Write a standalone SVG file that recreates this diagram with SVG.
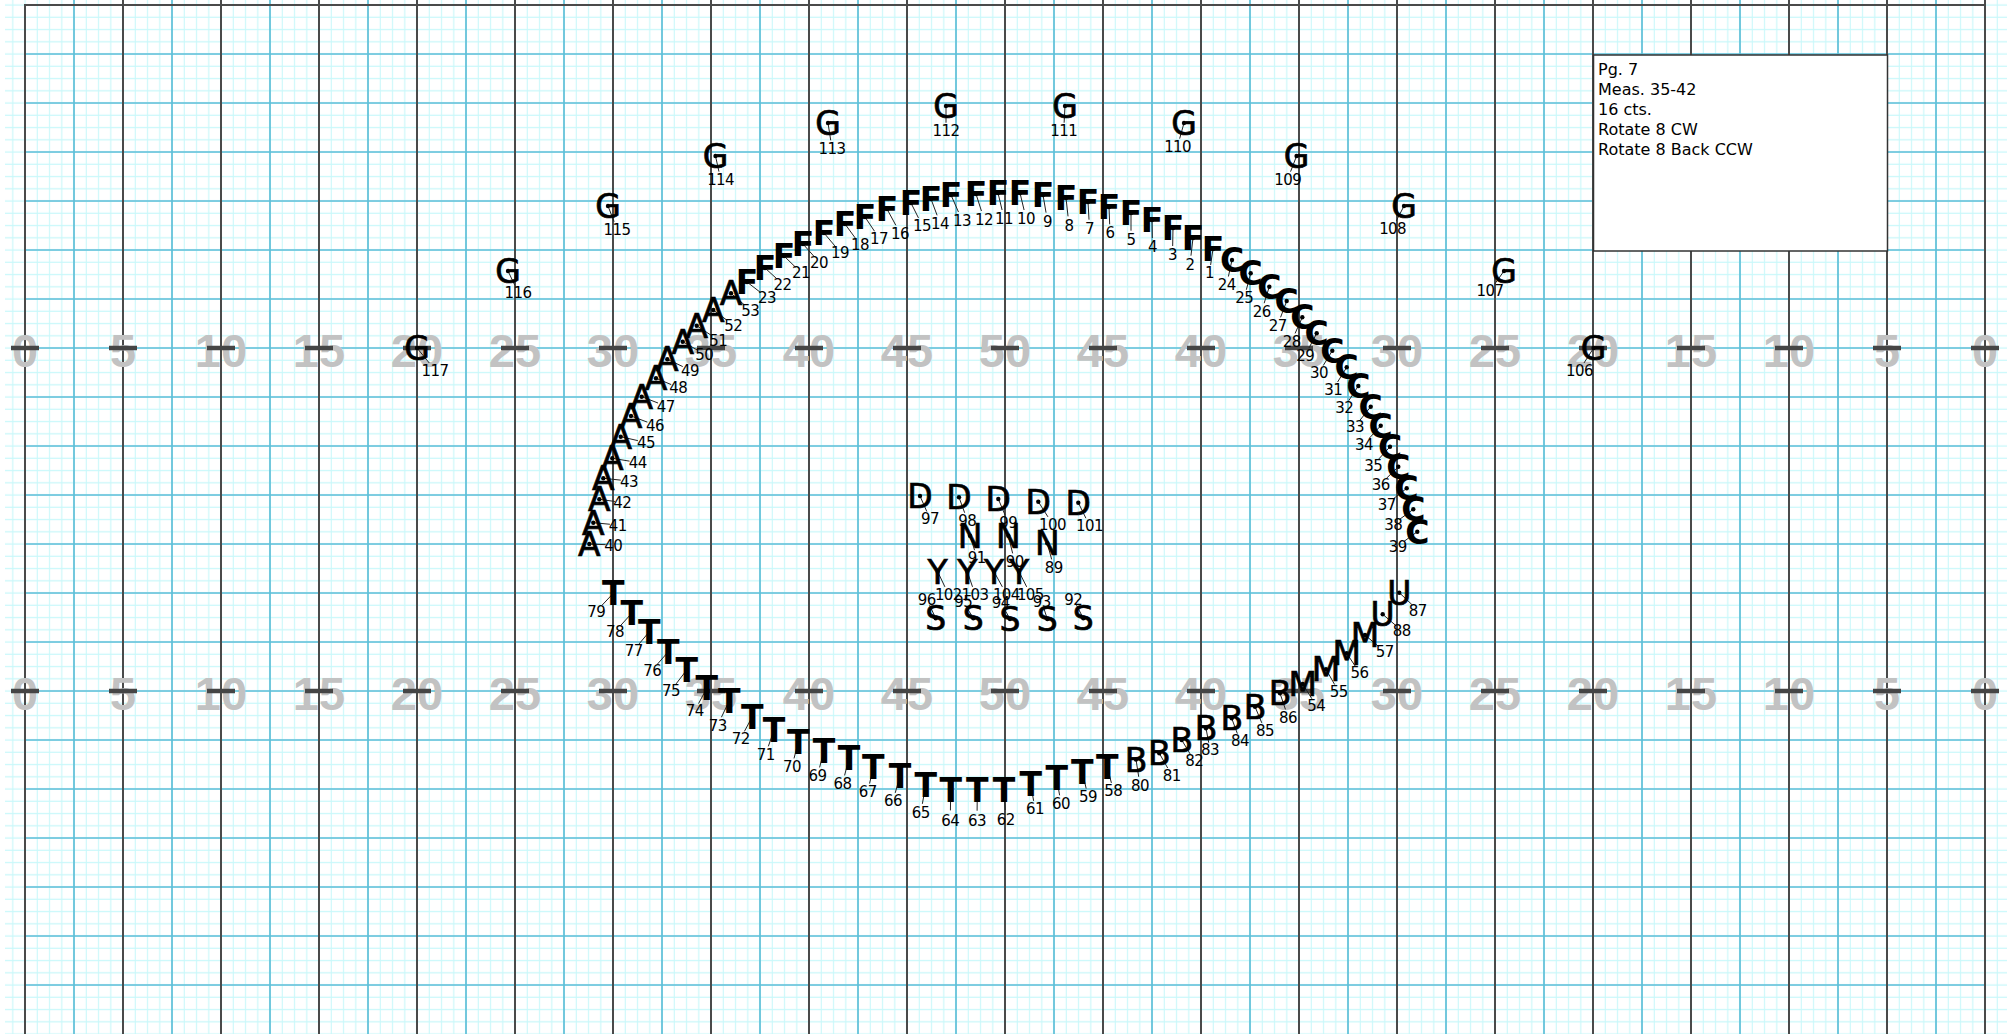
<svg xmlns="http://www.w3.org/2000/svg" width="2007" height="1034" viewBox="0 0 2007 1034">
<style>
.minor{stroke:#c9f8fa;stroke-width:1.1;fill:none}
.blue{stroke:#5fbfd8;stroke-width:1.7;fill:none}
.dark{stroke:#4a4a4a;stroke-width:2;fill:none}
.yn{font-family:"Liberation Sans",Arial,sans-serif;font-weight:bold;font-size:47px;fill:#c2c2c2;text-anchor:middle}
.box{fill:#fff;stroke:#333;stroke-width:1.5}
.bt{font-family:"DejaVu Sans",sans-serif;font-size:16px;fill:#000}
.g{font-family:"DejaVu Sans",sans-serif;font-size:33px;fill:#000;text-anchor:middle;stroke:#000;stroke-width:0.7px}
.b{font-weight:bold;stroke-width:0}
.lb{font-family:"DejaVu Sans",sans-serif;font-size:15px;fill:#000;text-anchor:middle;letter-spacing:-0.6px}
.ld{stroke:#222;stroke-width:1;fill:none;stroke-dasharray:0.68 1}
circle{fill:#000}
</style>
<defs>
<pattern id="mg" patternUnits="userSpaceOnUse" x="18.875" y="-1.125" width="98" height="98">
<path class="minor" d="M6.125 0V98M18.375 0V98M30.625 0V98M42.875 0V98M55.125 0V98M67.375 0V98M79.625 0V98M91.875 0V98M0 6.125H98M0 18.375H98M0 30.625H98M0 42.875H98M0 55.125H98M0 67.375H98M0 79.625H98M0 91.875H98"/>
</pattern>
</defs>
<rect width="2007" height="1034" fill="#fff"/>
<g id="grid">
<rect x="5" y="0" width="2002" height="1034" fill="url(#mg)"/>
<path class="blue" d="M74 0V1034M172 0V1034M270 0V1034M368 0V1034M466 0V1034M564 0V1034M662 0V1034M760 0V1034M858 0V1034M956 0V1034M1054 0V1034M1152 0V1034M1250 0V1034M1348 0V1034M1446 0V1034M1544 0V1034M1642 0V1034M1740 0V1034M1838 0V1034M1936 0V1034"/>
<path class="blue" d="M25 54H1985M25 103H1985M25 152H1985M25 201H1985M25 250H1985M25 299H1985M25 348H1985M25 397H1985M25 446H1985M25 495H1985M25 544H1985M25 593H1985M25 642H1985M25 691H1985M25 740H1985M25 789H1985M25 838H1985M25 887H1985M25 936H1985M25 985H1985"/>
<path class="dark" d="M25 5V1034M123 0V1034M221 0V1034M319 0V1034M417 0V1034M515 0V1034M613 0V1034M711 0V1034M809 0V1034M907 0V1034M1005 0V1034M1103 0V1034M1201 0V1034M1299 0V1034M1397 0V1034M1495 0V1034M1593 0V1034M1691 0V1034M1789 0V1034M1887 0V1034M1985 0V1034M24 5H1986"/>
</g>
<g id="yardnumbers">
<text class="yn" x="25" y="366.5">0</text><text class="yn" x="123" y="366.5">5</text><text class="yn" x="221" y="366.5">10</text><text class="yn" x="319" y="366.5">15</text><text class="yn" x="417" y="366.5">20</text><text class="yn" x="515" y="366.5">25</text><text class="yn" x="613" y="366.5">30</text><text class="yn" x="711" y="366.5">35</text><text class="yn" x="809" y="366.5">40</text><text class="yn" x="907" y="366.5">45</text><text class="yn" x="1005" y="366.5">50</text><text class="yn" x="1103" y="366.5">45</text><text class="yn" x="1201" y="366.5">40</text><text class="yn" x="1299" y="366.5">35</text><text class="yn" x="1397" y="366.5">30</text><text class="yn" x="1495" y="366.5">25</text><text class="yn" x="1593" y="366.5">20</text><text class="yn" x="1691" y="366.5">15</text><text class="yn" x="1789" y="366.5">10</text><text class="yn" x="1887" y="366.5">5</text><text class="yn" x="1985" y="366.5">0</text>
<text class="yn" x="25" y="709.5">0</text><text class="yn" x="123" y="709.5">5</text><text class="yn" x="221" y="709.5">10</text><text class="yn" x="319" y="709.5">15</text><text class="yn" x="417" y="709.5">20</text><text class="yn" x="515" y="709.5">25</text><text class="yn" x="613" y="709.5">30</text><text class="yn" x="711" y="709.5">35</text><text class="yn" x="809" y="709.5">40</text><text class="yn" x="907" y="709.5">45</text><text class="yn" x="1005" y="709.5">50</text><text class="yn" x="1103" y="709.5">45</text><text class="yn" x="1201" y="709.5">40</text><text class="yn" x="1299" y="709.5">35</text><text class="yn" x="1397" y="709.5">30</text><text class="yn" x="1495" y="709.5">25</text><text class="yn" x="1593" y="709.5">20</text><text class="yn" x="1691" y="709.5">15</text><text class="yn" x="1789" y="709.5">10</text><text class="yn" x="1887" y="709.5">5</text><text class="yn" x="1985" y="709.5">0</text>
</g>
<g id="ticks">
<path d="M11 348H39M109 348H137M207 348H235M305 348H333M403 348H431M501 348H529M599 348H627M697 348H725M795 348H823M893 348H921M991 348H1019M1089 348H1117M1187 348H1215M1285 348H1313M1383 348H1411M1481 348H1509M1579 348H1607M1677 348H1705M1775 348H1803M1873 348H1901M1971 348H1999M11 691H39M109 691H137M207 691H235M305 691H333M403 691H431M501 691H529M599 691H627M697 691H725M795 691H823M893 691H921M991 691H1019M1089 691H1117M1187 691H1215M1285 691H1313M1383 691H1411M1481 691H1509M1579 691H1607M1677 691H1705M1775 691H1803M1873 691H1901M1971 691H1999" stroke="#454545" stroke-width="4.5"/>
</g>
<g id="infobox">
<rect class="box" x="1593.5" y="55" width="294" height="196"/>
<text class="bt" x="1598" y="75">Pg. 7</text>
<text class="bt" x="1598" y="95">Meas. 35-42</text>
<text class="bt" x="1598" y="115">16 cts.</text>
<text class="bt" x="1598" y="135">Rotate 8 CW</text>
<text class="bt" x="1598" y="155">Rotate 8 Back CCW</text>
</g>
<g id="connectors">
<path class="ld" pathLength="1" d="M1213 249L1209.5 272.5"/>
<path class="ld" pathLength="1" d="M1193 238L1190 264"/>
<path class="ld" pathLength="1" d="M1173 228L1172.5 254.5"/>
<path class="ld" pathLength="1" d="M1152 220L1152.5 246.5"/>
<path class="ld" pathLength="1" d="M1131 213L1131 239"/>
<path class="ld" pathLength="1" d="M1109 207L1110 232.5"/>
<path class="ld" pathLength="1" d="M1088 202L1089.5 228"/>
<path class="ld" pathLength="1" d="M1066 198L1069 225"/>
<path class="ld" pathLength="1" d="M1043 195L1047.5 221"/>
<path class="ld" pathLength="1" d="M1020 193L1026 218"/>
<path class="ld" pathLength="1" d="M998 193L1004 218"/>
<path class="ld" pathLength="1" d="M976 194L984 219"/>
<path class="ld" pathLength="1" d="M951 195L962 220"/>
<path class="ld" pathLength="1" d="M931 199L940 223"/>
<path class="ld" pathLength="1" d="M911 203L922 225"/>
<path class="ld" pathLength="1" d="M887 209L900 233"/>
<path class="ld" pathLength="1" d="M865 217L879 238"/>
<path class="ld" pathLength="1" d="M845 224L860 244.5"/>
<path class="ld" pathLength="1" d="M824 233L840 252"/>
<path class="ld" pathLength="1" d="M803 244L819 262"/>
<path class="ld" pathLength="1" d="M784 256L801 272.5"/>
<path class="ld" pathLength="1" d="M765 268L782.5 284"/>
<path class="ld" pathLength="1" d="M747 282L767 297.5"/>
<path class="ld" pathLength="1" d="M1232 260L1226.7 284.3"/>
<path class="ld" pathLength="1" d="M1250.7 273.3L1244.3 297.5"/>
<path class="ld" pathLength="1" d="M1269.3 286.7L1261.7 311"/>
<path class="ld" pathLength="1" d="M1286.7 301L1277.7 325"/>
<path class="ld" pathLength="1" d="M1302.3 317.3L1291.7 341"/>
<path class="ld" pathLength="1" d="M1316.7 333.3L1305.3 355"/>
<path class="ld" pathLength="1" d="M1332.3 350.7L1319 372.5"/>
<path class="ld" pathLength="1" d="M1346.7 367.3L1333.3 389"/>
<path class="ld" pathLength="1" d="M1358.3 386L1344.3 407.5"/>
<path class="ld" pathLength="1" d="M1370.7 406.7L1355 426.5"/>
<path class="ld" pathLength="1" d="M1380.7 425.7L1364 444"/>
<path class="ld" pathLength="1" d="M1390 446.7L1373.3 465"/>
<path class="ld" pathLength="1" d="M1398.3 466.7L1380.7 484"/>
<path class="ld" pathLength="1" d="M1406.7 488.3L1386.7 504"/>
<path class="ld" pathLength="1" d="M1413.3 509.3L1393.3 524"/>
<path class="ld" pathLength="1" d="M1417.3 531.7L1397.7 546"/>
<path class="ld" pathLength="1" d="M589.3 544L613.3 545"/>
<path class="ld" pathLength="1" d="M593.3 522.7L617.7 525"/>
<path class="ld" pathLength="1" d="M599.3 499.3L622.3 502.5"/>
<path class="ld" pathLength="1" d="M603.3 478.3L629 481"/>
<path class="ld" pathLength="1" d="M612.3 458.3L637.7 462.5"/>
<path class="ld" pathLength="1" d="M620.7 436.7L646 442.5"/>
<path class="ld" pathLength="1" d="M631 416L655 425"/>
<path class="ld" pathLength="1" d="M641.7 396.7L665.7 406"/>
<path class="ld" pathLength="1" d="M656 378.3L678.3 387.5"/>
<path class="ld" pathLength="1" d="M667.3 359.3L690 370"/>
<path class="ld" pathLength="1" d="M682.7 341.7L704.3 354"/>
<path class="ld" pathLength="1" d="M696.7 325.7L718.3 340"/>
<path class="ld" pathLength="1" d="M713.3 310L733.3 325"/>
<path class="ld" pathLength="1" d="M731 293.3L750.3 310"/>
<path class="ld" pathLength="1" d="M1302.7 684L1316.2 705.7"/>
<path class="ld" pathLength="1" d="M1326 669.3L1338.7 691.7"/>
<path class="ld" pathLength="1" d="M1346.7 653.3L1359.5 672.5"/>
<path class="ld" pathLength="1" d="M1365 635L1384.7 651.7"/>
<path class="ld" pathLength="1" d="M1107.3 766.7L1113.3 790.5"/>
<path class="ld" pathLength="1" d="M1082.3 771.7L1088 796.5"/>
<path class="ld" pathLength="1" d="M1056.7 778.3L1061 803.3"/>
<path class="ld" pathLength="1" d="M1030.7 784L1035 808.8"/>
<path class="ld" pathLength="1" d="M1004 790L1005.8 819.5"/>
<path class="ld" pathLength="1" d="M977.3 790L977 820.5"/>
<path class="ld" pathLength="1" d="M950.7 790L950.3 820"/>
<path class="ld" pathLength="1" d="M925.7 785L920.8 812.7"/>
<path class="ld" pathLength="1" d="M900 776L893 800.8"/>
<path class="ld" pathLength="1" d="M873.3 767.3L867.8 791.2"/>
<path class="ld" pathLength="1" d="M849 758.3L842.5 783.5"/>
<path class="ld" pathLength="1" d="M824 750.7L817.5 775.3"/>
<path class="ld" pathLength="1" d="M798.3 741.7L792 766.3"/>
<path class="ld" pathLength="1" d="M774 730L765.7 754"/>
<path class="ld" pathLength="1" d="M752.3 716.7L740.7 738.3"/>
<path class="ld" pathLength="1" d="M729.3 700.8L717.7 725"/>
<path class="ld" pathLength="1" d="M706.7 688.3L694.7 710.8"/>
<path class="ld" pathLength="1" d="M686.7 670L671 690.5"/>
<path class="ld" pathLength="1" d="M668.3 651.7L652.3 670"/>
<path class="ld" pathLength="1" d="M649.3 631.7L633.7 650.3"/>
<path class="ld" pathLength="1" d="M631.7 613.3L615 631.7"/>
<path class="ld" pathLength="1" d="M613.3 593.3L596.3 611.3"/>
<path class="ld" pathLength="1" d="M1136 759.5L1140 785"/>
<path class="ld" pathLength="1" d="M1159.3 753.3L1171.7 775"/>
<path class="ld" pathLength="1" d="M1181.7 740L1194.3 760.8"/>
<path class="ld" pathLength="1" d="M1206 728.3L1210 749.5"/>
<path class="ld" pathLength="1" d="M1231.7 718.3L1240 740.8"/>
<path class="ld" pathLength="1" d="M1255 706.7L1265 730.5"/>
<path class="ld" pathLength="1" d="M1280 693.3L1288 717"/>
<path class="ld" pathLength="1" d="M1399.3 592.7L1417.7 610"/>
<path class="ld" pathLength="1" d="M1382.7 614.3L1401.7 630.5"/>
<path class="ld" pathLength="1" d="M1047.3 543.3L1053.7 567"/>
<path class="ld" pathLength="1" d="M1008.3 535.7L1014.7 561.7"/>
<path class="ld" pathLength="1" d="M970 535.7L976.7 557"/>
<path class="ld" pathLength="1" d="M1083.3 618.3L1073.3 599"/>
<path class="ld" pathLength="1" d="M1047.3 619L1041.7 601.7"/>
<path class="ld" pathLength="1" d="M1010 619L1000.8 602.5"/>
<path class="ld" pathLength="1" d="M973.3 618.3L963.3 601.7"/>
<path class="ld" pathLength="1" d="M935.7 618.3L926.7 599"/>
<path class="ld" pathLength="1" d="M920 496L930 518.8"/>
<path class="ld" pathLength="1" d="M959 497.3L967.3 520"/>
<path class="ld" pathLength="1" d="M998.3 499L1008.3 522.7"/>
<path class="ld" pathLength="1" d="M1038.3 501.7L1052.5 524"/>
<path class="ld" pathLength="1" d="M1078.3 502.7L1089.5 525.5"/>
<path class="ld" pathLength="1" d="M937.7 571.7L948.3 594"/>
<path class="ld" pathLength="1" d="M967.3 571.7L975 594"/>
<path class="ld" pathLength="1" d="M994 571.7L1006.3 594"/>
<path class="ld" pathLength="1" d="M1019 571.7L1030.3 594"/>
<path class="ld" pathLength="1" d="M1593.6 348L1579.5 370"/>
<path class="ld" pathLength="1" d="M1504 271L1490 290.6"/>
<path class="ld" pathLength="1" d="M1404 206L1392.6 228"/>
<path class="ld" pathLength="1" d="M1296.6 156L1287.7 179"/>
<path class="ld" pathLength="1" d="M1184 123L1177.6 146"/>
<path class="ld" pathLength="1" d="M1065 106L1063.7 130.6"/>
<path class="ld" pathLength="1" d="M946 106L946 130.6"/>
<path class="ld" pathLength="1" d="M828 123L832 148.5"/>
<path class="ld" pathLength="1" d="M715.5 156L720.6 179"/>
<path class="ld" pathLength="1" d="M608 206L617 229"/>
<path class="ld" pathLength="1" d="M508 271L518 292"/>
<path class="ld" pathLength="1" d="M417 348L435 370"/>
</g>
<g id="performers">
<g id="p1"><text class="g b" x="1213" y="261">F</text><circle cx="1213" cy="249" r="2.2"/><text class="lb" x="1209.5" y="278">1</text></g>
<g id="p2"><text class="g b" x="1193" y="250">F</text><circle cx="1193" cy="238" r="2.2"/><text class="lb" x="1190" y="269.5">2</text></g>
<g id="p3"><text class="g b" x="1173" y="240">F</text><circle cx="1173" cy="228" r="2.2"/><text class="lb" x="1172.5" y="260">3</text></g>
<g id="p4"><text class="g b" x="1152" y="232">F</text><circle cx="1152" cy="220" r="2.2"/><text class="lb" x="1152.5" y="252">4</text></g>
<g id="p5"><text class="g b" x="1131" y="225">F</text><circle cx="1131" cy="213" r="2.2"/><text class="lb" x="1131" y="244.5">5</text></g>
<g id="p6"><text class="g b" x="1109" y="219">F</text><circle cx="1109" cy="207" r="2.2"/><text class="lb" x="1110" y="238">6</text></g>
<g id="p7"><text class="g b" x="1088" y="214">F</text><circle cx="1088" cy="202" r="2.2"/><text class="lb" x="1089.5" y="233.5">7</text></g>
<g id="p8"><text class="g b" x="1066" y="210">F</text><circle cx="1066" cy="198" r="2.2"/><text class="lb" x="1069" y="230.5">8</text></g>
<g id="p9"><text class="g b" x="1043" y="207">F</text><circle cx="1043" cy="195" r="2.2"/><text class="lb" x="1047.5" y="226.5">9</text></g>
<g id="p10"><text class="g b" x="1020" y="205">F</text><circle cx="1020" cy="193" r="2.2"/><text class="lb" x="1026" y="223.5">10</text></g>
<g id="p11"><text class="g b" x="998" y="205">F</text><circle cx="998" cy="193" r="2.2"/><text class="lb" x="1004" y="223.5">11</text></g>
<g id="p12"><text class="g b" x="976" y="206">F</text><circle cx="976" cy="194" r="2.2"/><text class="lb" x="984" y="224.5">12</text></g>
<g id="p13"><text class="g b" x="951" y="207">F</text><circle cx="951" cy="195" r="2.2"/><text class="lb" x="962" y="225.5">13</text></g>
<g id="p14"><text class="g b" x="931" y="211">F</text><circle cx="931" cy="199" r="2.2"/><text class="lb" x="940" y="228.5">14</text></g>
<g id="p15"><text class="g b" x="911" y="215">F</text><circle cx="911" cy="203" r="2.2"/><text class="lb" x="922" y="230.5">15</text></g>
<g id="p16"><text class="g b" x="887" y="221">F</text><circle cx="887" cy="209" r="2.2"/><text class="lb" x="900" y="238.5">16</text></g>
<g id="p17"><text class="g b" x="865" y="229">F</text><circle cx="865" cy="217" r="2.2"/><text class="lb" x="879" y="243.5">17</text></g>
<g id="p18"><text class="g b" x="845" y="236">F</text><circle cx="845" cy="224" r="2.2"/><text class="lb" x="860" y="250">18</text></g>
<g id="p19"><text class="g b" x="824" y="245">F</text><circle cx="824" cy="233" r="2.2"/><text class="lb" x="840" y="257.5">19</text></g>
<g id="p20"><text class="g b" x="803" y="256">F</text><circle cx="803" cy="244" r="2.2"/><text class="lb" x="819" y="267.5">20</text></g>
<g id="p21"><text class="g b" x="784" y="268">F</text><circle cx="784" cy="256" r="2.2"/><text class="lb" x="801" y="278">21</text></g>
<g id="p22"><text class="g b" x="765" y="280">F</text><circle cx="765" cy="268" r="2.2"/><text class="lb" x="782.5" y="289.5">22</text></g>
<g id="p23"><text class="g b" x="747" y="294">F</text><circle cx="747" cy="282" r="2.2"/><text class="lb" x="767" y="303">23</text></g>
<g id="p24"><text class="g b" x="1232" y="272">C</text><circle cx="1232" cy="260" r="2.2"/><text class="lb" x="1226.7" y="289.8">24</text></g>
<g id="p25"><text class="g b" x="1250.7" y="285.3">C</text><circle cx="1250.7" cy="273.3" r="2.2"/><text class="lb" x="1244.3" y="303">25</text></g>
<g id="p26"><text class="g b" x="1269.3" y="298.7">C</text><circle cx="1269.3" cy="286.7" r="2.2"/><text class="lb" x="1261.7" y="316.5">26</text></g>
<g id="p27"><text class="g b" x="1286.7" y="313">C</text><circle cx="1286.7" cy="301" r="2.2"/><text class="lb" x="1277.7" y="330.5">27</text></g>
<g id="p28"><text class="g b" x="1302.3" y="329.3">C</text><circle cx="1302.3" cy="317.3" r="2.2"/><text class="lb" x="1291.7" y="346.5">28</text></g>
<g id="p29"><text class="g b" x="1316.7" y="345.3">C</text><circle cx="1316.7" cy="333.3" r="2.2"/><text class="lb" x="1305.3" y="360.5">29</text></g>
<g id="p30"><text class="g b" x="1332.3" y="362.7">C</text><circle cx="1332.3" cy="350.7" r="2.2"/><text class="lb" x="1319" y="378">30</text></g>
<g id="p31"><text class="g b" x="1346.7" y="379.3">C</text><circle cx="1346.7" cy="367.3" r="2.2"/><text class="lb" x="1333.3" y="394.5">31</text></g>
<g id="p32"><text class="g b" x="1358.3" y="398">C</text><circle cx="1358.3" cy="386" r="2.2"/><text class="lb" x="1344.3" y="413">32</text></g>
<g id="p33"><text class="g b" x="1370.7" y="418.7">C</text><circle cx="1370.7" cy="406.7" r="2.2"/><text class="lb" x="1355" y="432">33</text></g>
<g id="p34"><text class="g b" x="1380.7" y="437.7">C</text><circle cx="1380.7" cy="425.7" r="2.2"/><text class="lb" x="1364" y="449.5">34</text></g>
<g id="p35"><text class="g b" x="1390" y="458.7">C</text><circle cx="1390" cy="446.7" r="2.2"/><text class="lb" x="1373.3" y="470.5">35</text></g>
<g id="p36"><text class="g b" x="1398.3" y="478.7">C</text><circle cx="1398.3" cy="466.7" r="2.2"/><text class="lb" x="1380.7" y="489.5">36</text></g>
<g id="p37"><text class="g b" x="1406.7" y="500.3">C</text><circle cx="1406.7" cy="488.3" r="2.2"/><text class="lb" x="1386.7" y="509.5">37</text></g>
<g id="p38"><text class="g b" x="1413.3" y="521.3">C</text><circle cx="1413.3" cy="509.3" r="2.2"/><text class="lb" x="1393.3" y="529.5">38</text></g>
<g id="p39"><text class="g b" x="1417.3" y="543.7">C</text><circle cx="1417.3" cy="531.7" r="2.2"/><text class="lb" x="1397.7" y="551.5">39</text></g>
<g id="p40"><text class="g" x="589.3" y="556">A</text><circle cx="589.3" cy="544" r="2.2"/><text class="lb" x="613.3" y="550.5">40</text></g>
<g id="p41"><text class="g" x="593.3" y="534.7">A</text><circle cx="593.3" cy="522.7" r="2.2"/><text class="lb" x="617.7" y="530.5">41</text></g>
<g id="p42"><text class="g" x="599.3" y="511.3">A</text><circle cx="599.3" cy="499.3" r="2.2"/><text class="lb" x="622.3" y="508">42</text></g>
<g id="p43"><text class="g" x="603.3" y="490.3">A</text><circle cx="603.3" cy="478.3" r="2.2"/><text class="lb" x="629" y="486.5">43</text></g>
<g id="p44"><text class="g" x="612.3" y="470.3">A</text><circle cx="612.3" cy="458.3" r="2.2"/><text class="lb" x="637.7" y="468">44</text></g>
<g id="p45"><text class="g" x="620.7" y="448.7">A</text><circle cx="620.7" cy="436.7" r="2.2"/><text class="lb" x="646" y="448">45</text></g>
<g id="p46"><text class="g" x="631" y="428">A</text><circle cx="631" cy="416" r="2.2"/><text class="lb" x="655" y="430.5">46</text></g>
<g id="p47"><text class="g" x="641.7" y="408.7">A</text><circle cx="641.7" cy="396.7" r="2.2"/><text class="lb" x="665.7" y="411.5">47</text></g>
<g id="p48"><text class="g" x="656" y="390.3">A</text><circle cx="656" cy="378.3" r="2.2"/><text class="lb" x="678.3" y="393">48</text></g>
<g id="p49"><text class="g" x="667.3" y="371.3">A</text><circle cx="667.3" cy="359.3" r="2.2"/><text class="lb" x="690" y="375.5">49</text></g>
<g id="p50"><text class="g" x="682.7" y="353.7">A</text><circle cx="682.7" cy="341.7" r="2.2"/><text class="lb" x="704.3" y="359.5">50</text></g>
<g id="p51"><text class="g" x="696.7" y="337.7">A</text><circle cx="696.7" cy="325.7" r="2.2"/><text class="lb" x="718.3" y="345.5">51</text></g>
<g id="p52"><text class="g" x="713.3" y="322">A</text><circle cx="713.3" cy="310" r="2.2"/><text class="lb" x="733.3" y="330.5">52</text></g>
<g id="p53"><text class="g" x="731" y="305.3">A</text><circle cx="731" cy="293.3" r="2.2"/><text class="lb" x="750.3" y="315.5">53</text></g>
<g id="p54"><text class="g" x="1302.7" y="696">M</text><circle cx="1302.7" cy="684" r="2.2"/><text class="lb" x="1316.2" y="711.2">54</text></g>
<g id="p55"><text class="g" x="1326" y="681.3">M</text><circle cx="1326" cy="669.3" r="2.2"/><text class="lb" x="1338.7" y="697.2">55</text></g>
<g id="p56"><text class="g" x="1346.7" y="665.3">M</text><circle cx="1346.7" cy="653.3" r="2.2"/><text class="lb" x="1359.5" y="678">56</text></g>
<g id="p57"><text class="g" x="1365" y="647">M</text><circle cx="1365" cy="635" r="2.2"/><text class="lb" x="1384.7" y="657.2">57</text></g>
<g id="p58"><text class="g b" x="1107.3" y="778.7">T</text><circle cx="1107.3" cy="766.7" r="2.2"/><text class="lb" x="1113.3" y="796">58</text></g>
<g id="p59"><text class="g b" x="1082.3" y="783.7">T</text><circle cx="1082.3" cy="771.7" r="2.2"/><text class="lb" x="1088" y="802">59</text></g>
<g id="p60"><text class="g b" x="1056.7" y="790.3">T</text><circle cx="1056.7" cy="778.3" r="2.2"/><text class="lb" x="1061" y="808.8">60</text></g>
<g id="p61"><text class="g b" x="1030.7" y="796">T</text><circle cx="1030.7" cy="784" r="2.2"/><text class="lb" x="1035" y="814.3">61</text></g>
<g id="p62"><text class="g b" x="1004" y="802">T</text><circle cx="1004" cy="790" r="2.2"/><text class="lb" x="1005.8" y="825">62</text></g>
<g id="p63"><text class="g b" x="977.3" y="802">T</text><circle cx="977.3" cy="790" r="2.2"/><text class="lb" x="977" y="826">63</text></g>
<g id="p64"><text class="g b" x="950.7" y="802">T</text><circle cx="950.7" cy="790" r="2.2"/><text class="lb" x="950.3" y="825.5">64</text></g>
<g id="p65"><text class="g b" x="925.7" y="797">T</text><circle cx="925.7" cy="785" r="2.2"/><text class="lb" x="920.8" y="818.2">65</text></g>
<g id="p66"><text class="g b" x="900" y="788">T</text><circle cx="900" cy="776" r="2.2"/><text class="lb" x="893" y="806.3">66</text></g>
<g id="p67"><text class="g b" x="873.3" y="779.3">T</text><circle cx="873.3" cy="767.3" r="2.2"/><text class="lb" x="867.8" y="796.7">67</text></g>
<g id="p68"><text class="g b" x="849" y="770.3">T</text><circle cx="849" cy="758.3" r="2.2"/><text class="lb" x="842.5" y="789">68</text></g>
<g id="p69"><text class="g b" x="824" y="762.7">T</text><circle cx="824" cy="750.7" r="2.2"/><text class="lb" x="817.5" y="780.8">69</text></g>
<g id="p70"><text class="g b" x="798.3" y="753.7">T</text><circle cx="798.3" cy="741.7" r="2.2"/><text class="lb" x="792" y="771.8">70</text></g>
<g id="p71"><text class="g b" x="774" y="742">T</text><circle cx="774" cy="730" r="2.2"/><text class="lb" x="765.7" y="759.5">71</text></g>
<g id="p72"><text class="g b" x="752.3" y="728.7">T</text><circle cx="752.3" cy="716.7" r="2.2"/><text class="lb" x="740.7" y="743.8">72</text></g>
<g id="p73"><text class="g b" x="729.3" y="712.8">T</text><circle cx="729.3" cy="700.8" r="2.2"/><text class="lb" x="717.7" y="730.5">73</text></g>
<g id="p74"><text class="g b" x="706.7" y="700.3">T</text><circle cx="706.7" cy="688.3" r="2.2"/><text class="lb" x="694.7" y="716.3">74</text></g>
<g id="p75"><text class="g b" x="686.7" y="682">T</text><circle cx="686.7" cy="670" r="2.2"/><text class="lb" x="671" y="696">75</text></g>
<g id="p76"><text class="g b" x="668.3" y="663.7">T</text><circle cx="668.3" cy="651.7" r="2.2"/><text class="lb" x="652.3" y="675.5">76</text></g>
<g id="p77"><text class="g b" x="649.3" y="643.7">T</text><circle cx="649.3" cy="631.7" r="2.2"/><text class="lb" x="633.7" y="655.8">77</text></g>
<g id="p78"><text class="g b" x="631.7" y="625.3">T</text><circle cx="631.7" cy="613.3" r="2.2"/><text class="lb" x="615" y="637.2">78</text></g>
<g id="p79"><text class="g b" x="613.3" y="605.3">T</text><circle cx="613.3" cy="593.3" r="2.2"/><text class="lb" x="596.3" y="616.8">79</text></g>
<g id="p80"><text class="g" x="1136" y="771.5">B</text><circle cx="1136" cy="759.5" r="2.2"/><text class="lb" x="1140" y="790.5">80</text></g>
<g id="p81"><text class="g" x="1159.3" y="765.3">B</text><circle cx="1159.3" cy="753.3" r="2.2"/><text class="lb" x="1171.7" y="780.5">81</text></g>
<g id="p82"><text class="g" x="1181.7" y="752">B</text><circle cx="1181.7" cy="740" r="2.2"/><text class="lb" x="1194.3" y="766.3">82</text></g>
<g id="p83"><text class="g" x="1206" y="740.3">B</text><circle cx="1206" cy="728.3" r="2.2"/><text class="lb" x="1210" y="755">83</text></g>
<g id="p84"><text class="g" x="1231.7" y="730.3">B</text><circle cx="1231.7" cy="718.3" r="2.2"/><text class="lb" x="1240" y="746.3">84</text></g>
<g id="p85"><text class="g" x="1255" y="718.7">B</text><circle cx="1255" cy="706.7" r="2.2"/><text class="lb" x="1265" y="736">85</text></g>
<g id="p86"><text class="g" x="1280" y="705.3">B</text><circle cx="1280" cy="693.3" r="2.2"/><text class="lb" x="1288" y="722.5">86</text></g>
<g id="p87"><text class="g" x="1399.3" y="604.7">U</text><circle cx="1399.3" cy="592.7" r="2.2"/><text class="lb" x="1417.7" y="615.5">87</text></g>
<g id="p88"><text class="g" x="1382.7" y="626.3">U</text><circle cx="1382.7" cy="614.3" r="2.2"/><text class="lb" x="1401.7" y="636">88</text></g>
<g id="p89"><text class="g" x="1047.3" y="555.3">N</text><circle cx="1047.3" cy="543.3" r="2.2"/><text class="lb" x="1053.7" y="572.5">89</text></g>
<g id="p90"><text class="g" x="1008.3" y="547.7">N</text><circle cx="1008.3" cy="535.7" r="2.2"/><text class="lb" x="1014.7" y="567.2">90</text></g>
<g id="p91"><text class="g" x="970" y="547.7">N</text><circle cx="970" cy="535.7" r="2.2"/><text class="lb" x="976.7" y="562.5">91</text></g>
<g id="p92"><text class="g" x="1083.3" y="630.3">S</text><circle cx="1083.3" cy="618.3" r="2.2"/><text class="lb" x="1073.3" y="604.5">92</text></g>
<g id="p93"><text class="g" x="1047.3" y="631">S</text><circle cx="1047.3" cy="619" r="2.2"/><text class="lb" x="1041.7" y="607.2">93</text></g>
<g id="p94"><text class="g" x="1010" y="631">S</text><circle cx="1010" cy="619" r="2.2"/><text class="lb" x="1000.8" y="608">94</text></g>
<g id="p95"><text class="g" x="973.3" y="630.3">S</text><circle cx="973.3" cy="618.3" r="2.2"/><text class="lb" x="963.3" y="607.2">95</text></g>
<g id="p96"><text class="g" x="935.7" y="630.3">S</text><circle cx="935.7" cy="618.3" r="2.2"/><text class="lb" x="926.7" y="604.5">96</text></g>
<g id="p97"><text class="g" x="920" y="508">D</text><circle cx="920" cy="496" r="2.2"/><text class="lb" x="930" y="524.3">97</text></g>
<g id="p98"><text class="g" x="959" y="509.3">D</text><circle cx="959" cy="497.3" r="2.2"/><text class="lb" x="967.3" y="525.5">98</text></g>
<g id="p99"><text class="g" x="998.3" y="511">D</text><circle cx="998.3" cy="499" r="2.2"/><text class="lb" x="1008.3" y="528.2">99</text></g>
<g id="p100"><text class="g" x="1038.3" y="513.7">D</text><circle cx="1038.3" cy="501.7" r="2.2"/><text class="lb" x="1052.5" y="529.5">100</text></g>
<g id="p101"><text class="g" x="1078.3" y="514.7">D</text><circle cx="1078.3" cy="502.7" r="2.2"/><text class="lb" x="1089.5" y="531">101</text></g>
<g id="p102"><text class="g" x="937.7" y="583.7">Y</text><circle cx="937.7" cy="571.7" r="2.2"/><text class="lb" x="948.3" y="599.5">102</text></g>
<g id="p103"><text class="g" x="967.3" y="583.7">Y</text><circle cx="967.3" cy="571.7" r="2.2"/><text class="lb" x="975" y="599.5">103</text></g>
<g id="p104"><text class="g" x="994" y="583.7">Y</text><circle cx="994" cy="571.7" r="2.2"/><text class="lb" x="1006.3" y="599.5">104</text></g>
<g id="p105"><text class="g" x="1019" y="583.7">Y</text><circle cx="1019" cy="571.7" r="2.2"/><text class="lb" x="1030.3" y="599.5">105</text></g>
<g id="p106"><text class="g" x="1593.6" y="360">G</text><circle cx="1593.6" cy="348" r="2.2"/><text class="lb" x="1579.5" y="375.5">106</text></g>
<g id="p107"><text class="g" x="1504" y="283">G</text><circle cx="1504" cy="271" r="2.2"/><text class="lb" x="1490" y="296.1">107</text></g>
<g id="p108"><text class="g" x="1404" y="218">G</text><circle cx="1404" cy="206" r="2.2"/><text class="lb" x="1392.6" y="233.5">108</text></g>
<g id="p109"><text class="g" x="1296.6" y="168">G</text><circle cx="1296.6" cy="156" r="2.2"/><text class="lb" x="1287.7" y="184.5">109</text></g>
<g id="p110"><text class="g" x="1184" y="135">G</text><circle cx="1184" cy="123" r="2.2"/><text class="lb" x="1177.6" y="151.5">110</text></g>
<g id="p111"><text class="g" x="1065" y="118">G</text><circle cx="1065" cy="106" r="2.2"/><text class="lb" x="1063.7" y="136.1">111</text></g>
<g id="p112"><text class="g" x="946" y="118">G</text><circle cx="946" cy="106" r="2.2"/><text class="lb" x="946" y="136.1">112</text></g>
<g id="p113"><text class="g" x="828" y="135">G</text><circle cx="828" cy="123" r="2.2"/><text class="lb" x="832" y="154">113</text></g>
<g id="p114"><text class="g" x="715.5" y="168">G</text><circle cx="715.5" cy="156" r="2.2"/><text class="lb" x="720.6" y="184.5">114</text></g>
<g id="p115"><text class="g" x="608" y="218">G</text><circle cx="608" cy="206" r="2.2"/><text class="lb" x="617" y="234.5">115</text></g>
<g id="p116"><text class="g" x="508" y="283">G</text><circle cx="508" cy="271" r="2.2"/><text class="lb" x="518" y="297.5">116</text></g>
<g id="p117"><text class="g" x="417" y="360">G</text><circle cx="417" cy="348" r="2.2"/><text class="lb" x="435" y="375.5">117</text></g>
</g>
</svg>
